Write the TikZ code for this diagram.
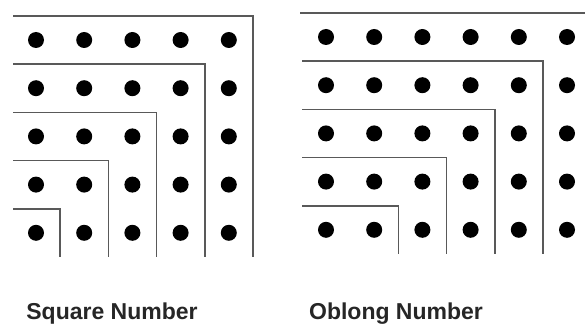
\documentclass[tikz,border=0pt]{standalone}
\usepackage{fontspec}
\setmainfont{Liberation Sans}
\usetikzlibrary{positioning}

\begin{document}
\begin{tikzpicture}[x=1pt, y=-1pt,
    pebble/.style={fill=black},
    gnomon/.style={draw=black!65, line width=1.5pt},
    caption/.style={font=\fontsize{23}{26}\selectfont\bfseries, text=black!85, anchor=base}]
    \useasboundingbox (0,0) rectangle (585,326);
    \def\gap{48.2}
    % square number: 5 x 5
    \foreach \i in {0,...,4}
        \foreach \j in {0,...,4}
            \fill[pebble] (36+\gap*\i, 40+\gap*\j) circle (8);
    \foreach \k in {1,...,5}
        \draw[gnomon] (13, 257-\gap*\k) -- (12+\gap*\k, 257-\gap*\k) -- (12+\gap*\k, 257);
    % oblong number: 5 x 6
    \foreach \i in {0,...,5}
        \foreach \j in {0,...,4}
            \fill[pebble] (326+\gap*\i, 37+\gap*\j) circle (8);
    \foreach \k in {1,...,4}
        \draw[gnomon] (302, 254-\gap*\k) -- (302+\gap*\k+\gap, 254-\gap*\k) -- (302+\gap*\k+\gap, 254);
    \draw[gnomon] (300, 13) -- (585, 13);
    \node[caption] (sqlabel) at (112,319.5) {Square Number};
    \node[caption] (oblabel) at (396,319.5) {Oblong Number};
\end{tikzpicture}
\end{document}
